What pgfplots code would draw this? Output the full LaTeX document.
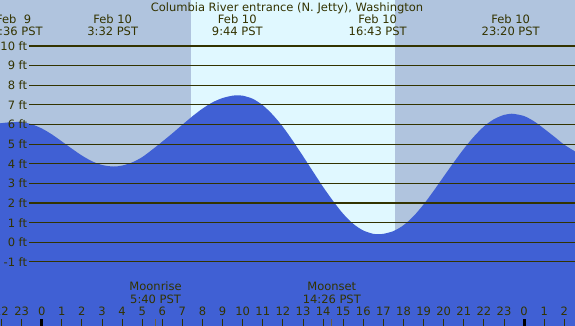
\documentclass[border=0pt]{standalone}
\usepackage{fontspec}
\setmainfont{DejaVu Sans}
\usepackage{pgfplots}
\pgfplotsset{compat=1.18}
\definecolor{night}{RGB}{176,196,222}
\definecolor{day}{RGB}{224,248,255}
\definecolor{tidecol}{RGB}{64,96,212}
\definecolor{ink}{RGB}{51,51,0}
\definecolor{moon}{RGB}{110,95,60}
\newcommand\lf{\fontsize{11.5}{13.8}\selectfont}
\tikzset{lab/.style={font=\lf, text=ink, inner sep=0pt}}
\begin{document}
\begin{tikzpicture}
\begin{axis}[at={(0,0)}, anchor=south west,
  width=575pt, height=326pt, scale only axis,
  xmin=-2.0746, xmax=26.5323, ymin=-4.264, ymax=12.343,
  axis background/.style={fill=night},
  axis on top,
  axis line style={draw=none},
  ytick=\empty,
  xtick={-2,...,26},
  xticklabels={22,23,0,1,2,3,4,5,6,7,8,9,10,11,12,13,14,15,16,17,18,19,20,21,22,23,0,1,2},
  xtick pos=bottom, tick align=inside,
  major tick length=7pt, minor tick length=7pt,
  major tick style={ink, line width=1pt},
  minor xtick={5.667,14.433},
  minor tick style={moon, line width=1pt},
  extra x ticks={0,24}, extra x tick labels={,},
  extra x tick style={major tick style={black, line width=3pt}},
  xticklabel style={font=\lf, text=ink, anchor=base, yshift=10.5pt, inner sep=0pt},
  clip=true,
]
% daylight
\addplot[fill=day, draw=none] coordinates {(7.43,-5) (7.43,13) (17.58,13) (17.58,-5)};
% tide (closed down to below the frame)
\addplot[fill=tidecol, draw=none, smooth] coordinates {
(-3.0,-6) (-3.0,5.90) (-2.6,6.00)
(-2.1,6.06) (-1.5,6.12) (-1.0,6.12) (-0.5,6.01) (0,5.80) (0.5,5.50) (1.0,5.14) (1.5,4.77)
(2.0,4.42) (2.5,4.13) (3.0,3.94) (3.55,3.86) (4.0,3.91) (4.5,4.07) (5.0,4.34) (5.5,4.72)
(6.0,5.13) (6.5,5.55) (7.0,5.99) (7.5,6.42) (8.0,6.81) (8.5,7.13) (9.0,7.35) (9.5,7.47)
(9.78,7.49) (10.0,7.47) (10.5,7.31) (11.0,6.98) (11.5,6.49) (12.0,5.88) (12.5,5.16) (13.0,4.39)
(13.5,3.60) (14.0,2.82) (14.5,2.10) (15.0,1.45) (15.5,0.94) (16.0,0.60) (16.5,0.43) (16.8,0.41)
(17.0,0.43) (17.5,0.57) (18.0,0.87) (18.5,1.33) (19.0,1.93) (19.5,2.62) (20.0,3.35) (20.5,4.07)
(21.0,4.76) (21.5,5.38) (22.0,5.90) (22.5,6.27) (23.0,6.49) (23.38,6.55) (23.5,6.54) (24.0,6.43)
(24.5,6.16) (25.0,5.78) (25.5,5.38) (26.0,4.97) (26.5,4.65) (26.7,4.52)
(27.2,4.15) (27.6,3.85) (27.6,-6)};
% level lines
\addplot[ink, line width=1.1pt] coordinates {(-0.632,10) (27,10)};
\addplot[ink, line width=1.1pt] coordinates {(-0.632,9) (27,9)};
\addplot[ink, line width=1.1pt] coordinates {(-0.632,8) (27,8)};
\addplot[ink, line width=1.1pt] coordinates {(-0.632,7) (27,7)};
\addplot[ink, line width=1.1pt] coordinates {(-0.632,6) (27,6)};
\addplot[ink, line width=1.1pt] coordinates {(-0.632,5) (27,5)};
\addplot[ink, line width=1.1pt] coordinates {(-0.632,4) (27,4)};
\addplot[ink, line width=1.1pt] coordinates {(-0.632,3) (27,3)};
\addplot[ink, line width=1.1pt] coordinates {(-0.632,2) (27,2)};
\addplot[ink, line width=1.1pt] coordinates {(-0.632,1) (27,1)};
\addplot[ink, line width=1.1pt] coordinates {(-0.632,0) (27,0)};
\addplot[ink, line width=1.1pt] coordinates {(-0.632,-1) (27,-1)};
% level labels
\node[lab, anchor=east] at (axis cs:-0.716,10) {10 ft};
\node[lab, anchor=east] at (axis cs:-0.716,9) {9 ft};
\node[lab, anchor=east] at (axis cs:-0.716,8) {8 ft};
\node[lab, anchor=east] at (axis cs:-0.716,7) {7 ft};
\node[lab, anchor=east] at (axis cs:-0.716,6) {6 ft};
\node[lab, anchor=east] at (axis cs:-0.716,5) {5 ft};
\node[lab, anchor=east] at (axis cs:-0.716,4) {4 ft};
\node[lab, anchor=east] at (axis cs:-0.716,3) {3 ft};
\node[lab, anchor=east] at (axis cs:-0.716,2) {2 ft};
\node[lab, anchor=east] at (axis cs:-0.716,1) {1 ft};
\node[lab, anchor=east] at (axis cs:-0.716,0) {0 ft};
\node[lab, anchor=east] at (axis cs:-0.716,-1) {-1 ft};
% title and extrema labels
\node[lab, anchor=base] at (rel axis cs:0.4991,0.9653) {Columbia River entrance (N. Jetty), Washington};
\node[lab, anchor=base] at (rel axis cs:0.02365,0.9264) {Feb~~9};
\node[lab, anchor=base] at (rel axis cs:0.02365,0.8905) {22:36 PST};
\node[lab, anchor=base] at (rel axis cs:0.1960,0.9264) {Feb 10};
\node[lab, anchor=base] at (rel axis cs:0.1960,0.8905) {3:32 PST};
\node[lab, anchor=base] at (rel axis cs:0.4127,0.9264) {Feb 10};
\node[lab, anchor=base] at (rel axis cs:0.4127,0.8905) {9:44 PST};
\node[lab, anchor=base] at (rel axis cs:0.6569,0.9264) {Feb 10};
\node[lab, anchor=base] at (rel axis cs:0.6569,0.8905) {16:43 PST};
\node[lab, anchor=base] at (rel axis cs:0.8882,0.9264) {Feb 10};
\node[lab, anchor=base] at (rel axis cs:0.8882,0.8905) {23:20 PST};
% moon labels
\node[lab, anchor=base] at (rel axis cs:0.2706,0.1074) {Moonrise};
\node[lab, anchor=base] at (rel axis cs:0.2706,0.0684) {5:40 PST};
\node[lab, anchor=base] at (rel axis cs:0.5770,0.1074) {Moonset};
\node[lab, anchor=base] at (rel axis cs:0.5770,0.0684) {14:26 PST};
\end{axis}
\pgfresetboundingbox
\path[use as bounding box] (0,0) rectangle (575pt,326pt);
\end{tikzpicture}
\end{document}
